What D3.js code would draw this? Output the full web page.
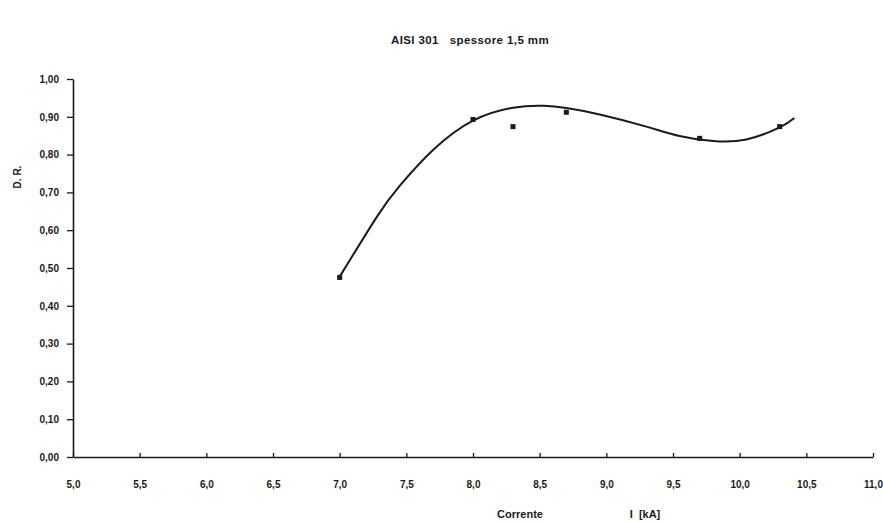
<!DOCTYPE html>
<html><head><meta charset="utf-8">
<script src="https://cdn.jsdelivr.net/npm/d3@7"></script>
<style>
html,body{margin:0;padding:0;background:#fff;}
svg{display:block;font-family:"Liberation Sans",Arial,sans-serif;}
</style></head>
<body>
<svg id="c" width="883" height="522"></svg>
<script>
// measured points: current I [kA] vs D.R.
const pointX = [7.0, 8.0, 8.3, 8.7, 9.7, 10.3];
const pointY = [0.475, 0.893, 0.874, 0.912, 0.843, 0.874];
// trend curve
const curveX = [7.0, 7.28, 7.45, 7.7, 8.0, 8.3, 8.53, 8.7, 8.95, 9.3, 9.55, 9.8, 10.05, 10.3, 10.41];
const curveY = [0.477, 0.636, 0.717, 0.812, 0.89, 0.924, 0.929, 0.923, 0.906, 0.874, 0.849, 0.836, 0.840, 0.872, 0.897];
const xTicks = [5.0, 5.5, 6.0, 6.5, 7.0, 7.5, 8.0, 8.5, 9.0, 9.5, 10.0, 10.5, 11.0];
const yTicks = [0, 0.1, 0.2, 0.3, 0.4, 0.5, 0.6, 0.7, 0.8, 0.9, 1.0];
const title = "AISI 301   spessore 1,5 mm";
const yTitle = "D. R.";
const xTitle1 = "Corrente";
const xTitle2 = "I  [kA]";

const svg = d3.select("#c");
const x = d3.scaleLinear().domain([5, 11]).range([73, 873]);
const y = d3.scaleLinear().domain([0, 1]).range([457, 79]);
const ink = "#1a1a1a";

// x axis
const xa = svg.append("g").attr("transform", `translate(0,${y(0)})`)
  .call(d3.axisBottom(x).tickValues(xTicks).tickSize(-4).tickSizeOuter(0)
    .tickFormat(d => d3.format(".1f")(d).replace(".", ",")));
xa.select(".domain").attr("stroke", ink).attr("stroke-width", 1.6);
xa.selectAll(".tick line").attr("stroke", ink).attr("stroke-width", 1.3);
xa.selectAll(".tick text").attr("fill", ink).attr("font-size", 10).attr("font-weight", "bold")
  .attr("y", 31).attr("dy", "0");

// y axis
const ya = svg.append("g").attr("transform", `translate(${x(5)},0)`)
  .call(d3.axisLeft(y).tickValues(yTicks).tickSize(6).tickSizeOuter(0)
    .tickFormat(d => d3.format(".2f")(d).replace(".", ",")));
ya.select(".domain").attr("stroke", ink).attr("stroke-width", 1.6);
ya.selectAll(".tick line").attr("stroke", ink).attr("stroke-width", 1.3);
ya.selectAll(".tick text").attr("fill", ink).attr("font-size", 10).attr("font-weight", "bold")
  .attr("x", -14);

// curve
const cdata = curveX.map((v, i) => [v, curveY[i]]);
svg.append("path").datum(cdata)
  .attr("fill", "none").attr("stroke", ink).attr("stroke-width", 2)
  .attr("d", d3.line().x(d => x(d[0])).y(d => y(d[1])).curve(d3.curveNatural));

// points
svg.append("g").selectAll("rect").data(pointX.map((v, i) => [v, pointY[i]])).join("rect")
  .attr("x", d => x(d[0]) - 2.5).attr("y", d => y(d[1]) - 2.5)
  .attr("width", 5).attr("height", 5).attr("fill", ink);

// titles
svg.append("text").attr("x", 470).attr("y", 44).attr("text-anchor", "middle")
  .attr("font-size", 11.5).attr("font-weight", "bold").attr("fill", ink)
  .attr("letter-spacing", 0.4)
  .style("white-space", "pre").text(title);
svg.append("text").attr("transform", "translate(21,177) rotate(-90)").attr("text-anchor", "middle")
  .attr("font-size", 10).attr("font-weight", "bold").attr("fill", ink).text(yTitle);
svg.append("text").attr("x", 520).attr("y", 518).attr("text-anchor", "middle")
  .attr("font-size", 11).attr("font-weight", "bold").attr("fill", ink).text(xTitle1);
svg.append("text").attr("x", 645).attr("y", 518).attr("text-anchor", "middle")
  .attr("font-size", 11).attr("font-weight", "bold").attr("fill", ink)
  .style("white-space", "pre").text(xTitle2);
</script>
</body></html>
